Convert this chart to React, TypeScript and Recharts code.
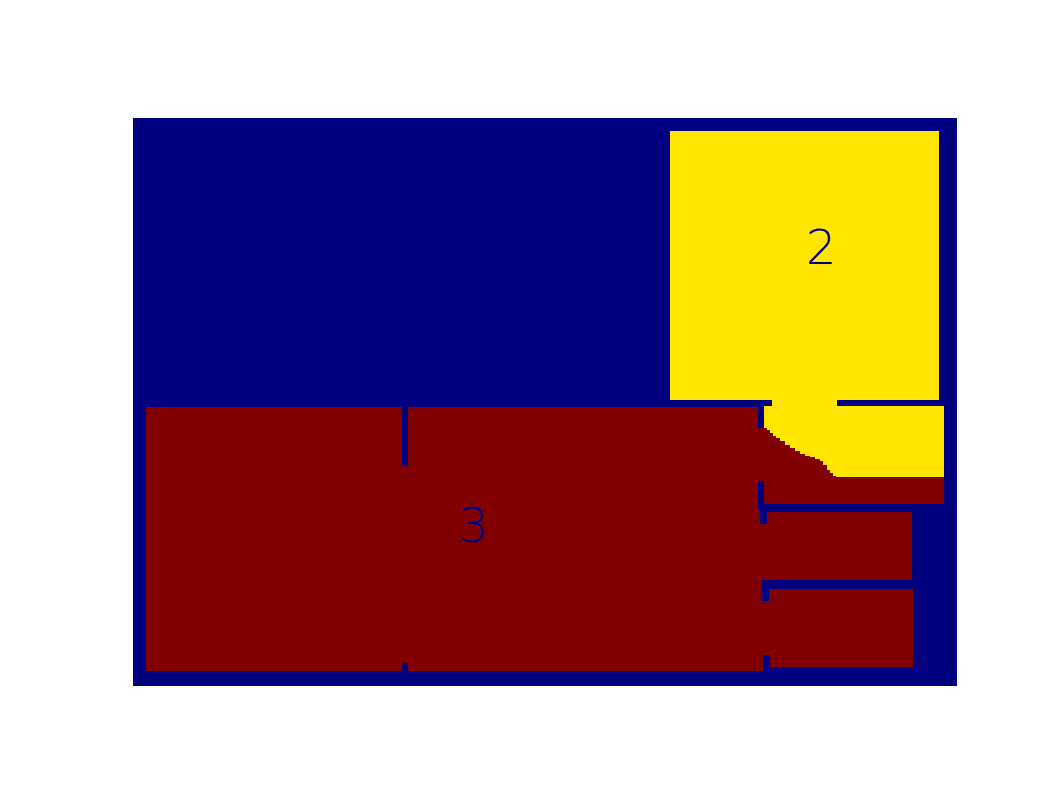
import React from "react";
import {
  ComposedChart,
  ReferenceArea,
  Scatter,
  XAxis,
  YAxis,
} from "recharts";

// image coordinates (pixels), y grows downwards
const IMG_W = 824;
const IMG_H = 568;

type Rect = [number, number, number, number]; // x0, x1, y0, y1

const NAVY = "#000080";
const YELLOW = "#FFE500";
const RED = "#800000";

const background: Rect[] = [[0, IMG_W, 0, IMG_H]];

const region2: Rect[] = [
  [537, 806, 13, 282],
  [639, 704, 282, 288],
  [631, 811, 288, 359],
];

const region3: Rect[] = [
  [13, 631, 289, 553],
  [631, 811, 359, 386],
  [631, 779, 394, 462],
  [631, 780, 471, 549],
];

// staircase edge between region 2 and 3
const region3Steps: Rect[] = [
  [631, 634, 310, 359],
  [634, 637, 312, 359],
  [637, 640, 315, 359],
  [640, 643, 318, 359],
  [643, 647, 320, 359],
  [647, 652, 323, 359],
  [652, 657, 327, 359],
  [657, 662, 330, 359],
  [662, 667, 333, 359],
  [667, 672, 336, 359],
  [672, 677, 338, 359],
  [677, 682, 339, 359],
  [682, 687, 341, 359],
  [687, 690, 343, 359],
  [690, 694, 347, 359],
  [694, 697, 352, 359],
  [697, 700, 355, 359],
  [700, 703, 358, 359],
];

// thin gaps of label 0 cutting through region 3
const gaps: Rect[] = [
  [269, 275, 289, 348],
  [269, 275, 545, 553],
  [625, 631, 289, 310],
  [625, 631, 363, 391],
  [627, 634, 391, 406],
  [629, 636, 462, 483],
  [630, 637, 537, 553],
];

const labelPoints = [
  { x: 688, y: 129, label: "2" },
  { x: 340, y: 407, label: "3" },
];

function areas(rects: Rect[], fill: string, key: string) {
  return rects.map(([x0, x1, y0, y1], i) => (
    <ReferenceArea
      key={`${key}-${i}`}
      x1={x0}
      x2={x1}
      y1={y0}
      y2={y1}
      fill={fill}
      fillOpacity={1}
      stroke="none"
      ifOverflow="visible"
    />
  ));
}

function LabelShape(props: any) {
  const { cx, cy, payload } = props;
  return (
    <text
      x={cx}
      y={cy}
      textAnchor="middle"
      dominantBaseline="central"
      fontFamily="'DejaVu Sans', sans-serif"
      fontWeight={200}
      fontSize={48}
      fill={NAVY}
    >
      {payload.label}
    </text>
  );
}

export default function App() {
  return (
    <div style={{ position: "absolute", left: 0, top: 0, width: 1062, height: 796, background: "#fff" }}>
      <ComposedChart
        width={1062}
        height={796}
        data={labelPoints}
        margin={{ top: 118, right: 105, bottom: 110, left: 133 }}
      >
        <XAxis type="number" dataKey="x" domain={[0, IMG_W]} hide allowDataOverflow />
        <YAxis type="number" dataKey="y" domain={[0, IMG_H]} reversed hide allowDataOverflow />
        {areas(background, NAVY, "bg")}
        {areas(region3, RED, "r3")}
        {areas(region2, YELLOW, "r2")}
        {areas(region3Steps, RED, "st")}
        {areas(gaps, NAVY, "gap")}
        <Scatter data={labelPoints} dataKey="y" shape={LabelShape} isAnimationActive={false} />
      </ComposedChart>
    </div>
  );
}
